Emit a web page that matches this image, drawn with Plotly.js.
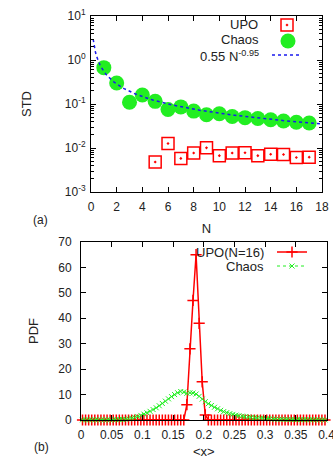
<!DOCTYPE html>
<html>
<head>
<meta charset="utf-8">
<script src="https://cdn.plot.ly/plotly-3.0.1.min.js"></script>
<style>html,body{margin:0;padding:0;background:#fff;}#chart{width:333px;height:459px;}</style>
</head>
<body>
<div id="chart"></div>
<script>
// ---------- panel (a) data ----------
const N_CHAOS = [1,2,3,4,5,6,7,8,9,10,11,12,13,14,15,16,17];
const STD_CHAOS = [0.67,0.30,0.11,0.16,0.115,0.075,0.086,0.069,0.057,0.060,0.052,0.049,0.047,0.044,0.041,0.0385,0.037];
const N_UPO = [5,6,7,8,9,10,11,12,13,14,15,16,17];
const STD_UPO = [0.0048,0.0127,0.0058,0.0077,0.0101,0.0067,0.0077,0.0078,0.0067,0.0072,0.0071,0.0061,0.0062];
// fit curve parameters (from legend: 0.55 N^-0.95)
const FIT_A = 0.55;
const FIT_B = -0.95;
const FIT_N_START = 0.17;
const FIT_N_END = 18;
const LOG_TICKVALS = [0.001,0.01,0.1,1,10];
const LOG_TICKTEXT = ['10<sup>-3</sup>','10<sup>-2</sup>','10<sup>-1</sup>','10<sup>0</sup>','10<sup>1</sup>'];

// ---------- panel (b) data (bin centres, width 0.005) ----------
const X_BINS = [0.0025,0.0075,0.0125,0.0175,0.0225,0.0275,0.0325,0.0375,0.0425,0.0475,
0.0525,0.0575,0.0625,0.0675,0.0725,0.0775,0.0825,0.0875,0.0925,0.0975,
0.1025,0.1075,0.1125,0.1175,0.1225,0.1275,0.1325,0.1375,0.1425,0.1475,
0.1525,0.1575,0.1625,0.1675,0.1725,0.1775,0.1825,0.1875,0.1925,0.1975,
0.2025,0.2075,0.2125,0.2175,0.2225,0.2275,0.2325,0.2375,0.2425,0.2475,
0.2525,0.2575,0.2625,0.2675,0.2725,0.2775,0.2825,0.2875,0.2925,0.2975,
0.3025,0.3075,0.3125,0.3175,0.3225,0.3275,0.3325,0.3375,0.3425,0.3475,
0.3525,0.3575,0.3625,0.3675,0.3725,0.3775,0.3825,0.3875,0.3925,0.3975];
const PDF_UPO = [0,0,0,0,0,0,0,0,0,0,
0,0,0,0,0,0,0,0,0,0,
0,0,0,0,0,0,0,0,0,0,
0,0,0,0,6,28,47,65,38,15,
2,0,0,0,0,0,0,0,0,0,
0,0,0,0,0,0,0,0,0,0,
0,0,0,0,0,0,0,0,0,0,
0,0,0,0,0,0,0,0,0,0];
const PDF_CHAOS = [0.05,0.05,0.05,0.05,0.05,0.05,0.05,0.05,0.05,0.05,
0.08,0.1,0.15,0.2,0.3,0.45,0.7,1.0,1.4,1.8,
2.3,2.8,3.4,4.1,4.8,5.6,6.5,7.4,8.3,9.2,
10.0,10.7,11.2,11.0,10.5,10.7,10.6,10.2,9.3,8.2,
7.2,6.4,5.7,5.0,4.4,3.8,3.3,2.9,2.5,2.2,
1.9,1.7,1.5,1.3,1.15,1.0,0.9,0.8,0.7,0.6,
0.52,0.45,0.4,0.35,0.3,0.27,0.24,0.21,0.18,0.16,
0.14,0.12,0.11,0.1,0.09,0.08,0.07,0.06,0.05,0.05];
const X2_TICKVALS = [0,0.05,0.1,0.15,0.2,0.25,0.3,0.35,0.4];
const X2_TICKTEXT = ['0','0.05','0.1','0.15','0.2','0.25','0.3','0.35','0.4'];

const fitN = [], fitY = [];
for (let i = 0; i <= 200; i++) {
  const n = FIT_N_START + (FIT_N_END - FIT_N_START) * i / 200;
  fitN.push(n); fitY.push(FIT_A * Math.pow(n, FIT_B));
}
const minorLog = [];
for (let e = -3; e < 1; e++) for (let k = 2; k <= 9; k++) minorLog.push(k * Math.pow(10, e));

const RED = '#ff0000', GREEN = '#22ee22', BLUE = '#1a1aee';
const FONT = 'Liberation Sans, Arial, sans-serif';
const TXT = '#222';

const traces = [
  {x: N_UPO, y: STD_UPO, mode: 'markers', name: '', legend: 'legend',
   marker: {symbol: 'square-open-dot', size: 12, color: RED, line: {width: 1.5, color: RED}},
   xaxis: 'x', yaxis: 'y'},
  {x: N_CHAOS, y: STD_CHAOS, mode: 'markers', name: '', legend: 'legend2',
   marker: {symbol: 'circle', size: 15, color: GREEN},
   xaxis: 'x', yaxis: 'y'},
  {x: fitN, y: fitY, mode: 'lines', name: '', legend: 'legend3',
   line: {color: BLUE, width: 1.5, dash: 'dot'},
   xaxis: 'x', yaxis: 'y'},
  {x: X_BINS, y: PDF_UPO, mode: 'lines+markers', name: '', legend: 'legend4', cliponaxis: false,
   line: {color: RED, width: 1.5},
   marker: {symbol: 'cross-thin-open', size: 8, color: RED, line: {width: 1.5, color: RED}},
   xaxis: 'x2', yaxis: 'y2'},
  {x: X_BINS, y: PDF_CHAOS, mode: 'lines+markers', name: '', legend: 'legend5', cliponaxis: false,
   line: {color: GREEN, width: 1, dash: 'dot'},
   marker: {symbol: 'x-thin-open', size: 5, color: GREEN, line: {width: 1, color: GREEN}},
   xaxis: 'x2', yaxis: 'y2'}
];

function leg(cx, cy) {
  return {x: (cx - 20) / 333, y: 1 - cy / 459, xanchor: 'left', yanchor: 'middle', visible: true,
          bgcolor: 'rgba(0,0,0,0)', borderwidth: 0, font: {size: 10}};
}

const axCommon = {showline: true, linecolor: '#000', linewidth: 1, mirror: 'ticks',
  ticks: 'inside', ticklen: 5, tickcolor: '#000', showgrid: false, zeroline: false,
  ticklabeloverflow: 'allow',
  tickfont: {family: FONT, size: 12, color: TXT}};

const layout = {
  width: 333, height: 459,
  margin: {l: 0, r: 0, t: 0, b: 0},
  showlegend: true,
  paper_bgcolor: '#fff', plot_bgcolor: '#fff',
  font: {family: FONT, size: 12, color: TXT},
  legend: leg(287, 25), legend2: leg(288, 41), legend3: leg(287, 55),
  legend4: leg(292, 252), legend5: leg(292, 266),
  xaxis: Object.assign({}, axCommon, {domain: [0.2733, 0.9670], anchor: 'y',
    range: [0, 18], dtick: 2, tick0: 0, ticklabelstandoff: 4,
    title: {text: 'N', font: {family: FONT, size: 13, color: TXT}, standoff: 10}}),
  yaxis: Object.assign({}, axCommon, {domain: [0.5817, 0.9651], anchor: 'x',
    type: 'log', range: [-3, 1], tickmode: 'array', tickvals: LOG_TICKVALS, ticktext: LOG_TICKTEXT,
    ticklabelstandoff: 2,
    minor: {tickmode: 'array', tickvals: minorLog, ticks: 'inside', ticklen: 3, tickcolor: '#000', showgrid: false},
    title: {text: 'STD', font: {family: FONT, size: 13, color: TXT}, standoff: 30}}),
  xaxis2: Object.assign({}, axCommon, {domain: [0.2432, 0.9805], anchor: 'y2',
    range: [0, 0.4], tickmode: 'array', tickvals: X2_TICKVALS, ticktext: X2_TICKTEXT, ticklabelstandoff: 4,
    title: {text: '&lt;x&gt;', font: {family: FONT, size: 13, color: TXT}, standoff: 14}}),
  yaxis2: Object.assign({}, axCommon, {domain: [0.0850, 0.4728], anchor: 'x2',
    range: [0, 70], dtick: 10, tick0: 0, ticklabelstandoff: 6,
    title: {text: 'PDF', font: {family: FONT, size: 13, color: TXT}, standoff: 16}}),
  annotations: [
    {text: 'UPO', xref: 'paper', yref: 'paper', x: 260/333, y: 1 - 25/459, xanchor: 'right', yanchor: 'middle', showarrow: false, font: {family: FONT, size: 13, color: TXT}},
    {text: 'Chaos', xref: 'paper', yref: 'paper', x: 261/333, y: 1 - 39/459, xanchor: 'right', yanchor: 'middle', showarrow: false, font: {family: FONT, size: 13, color: TXT}},
    {text: '0.55 N<sup>-0.95</sup>', xref: 'paper', yref: 'paper', x: 261/333, y: 1 - 56/459, xanchor: 'right', yanchor: 'middle', showarrow: false, font: {family: FONT, size: 13, color: TXT}},
    {text: 'UPO(N=16)', xref: 'paper', yref: 'paper', x: 266/333, y: 1 - 252/459, xanchor: 'right', yanchor: 'middle', showarrow: false, font: {family: FONT, size: 13, color: TXT}},
    {text: 'Chaos', xref: 'paper', yref: 'paper', x: 266/333, y: 1 - 266/459, xanchor: 'right', yanchor: 'middle', showarrow: false, font: {family: FONT, size: 13, color: TXT}},
    {text: '(a)', xref: 'paper', yref: 'paper', x: 40/333, y: 1 - 220/459, xanchor: 'center', yanchor: 'middle', showarrow: false, font: {family: FONT, size: 12, color: TXT}},
    {text: '(b)', xref: 'paper', yref: 'paper', x: 41/333, y: 1 - 447/459, xanchor: 'center', yanchor: 'middle', showarrow: false, font: {family: FONT, size: 12, color: TXT}}
  ]
};

Plotly.newPlot('chart', traces, layout, {staticPlot: true, displayModeBar: false});
</script>
</body>
</html>
